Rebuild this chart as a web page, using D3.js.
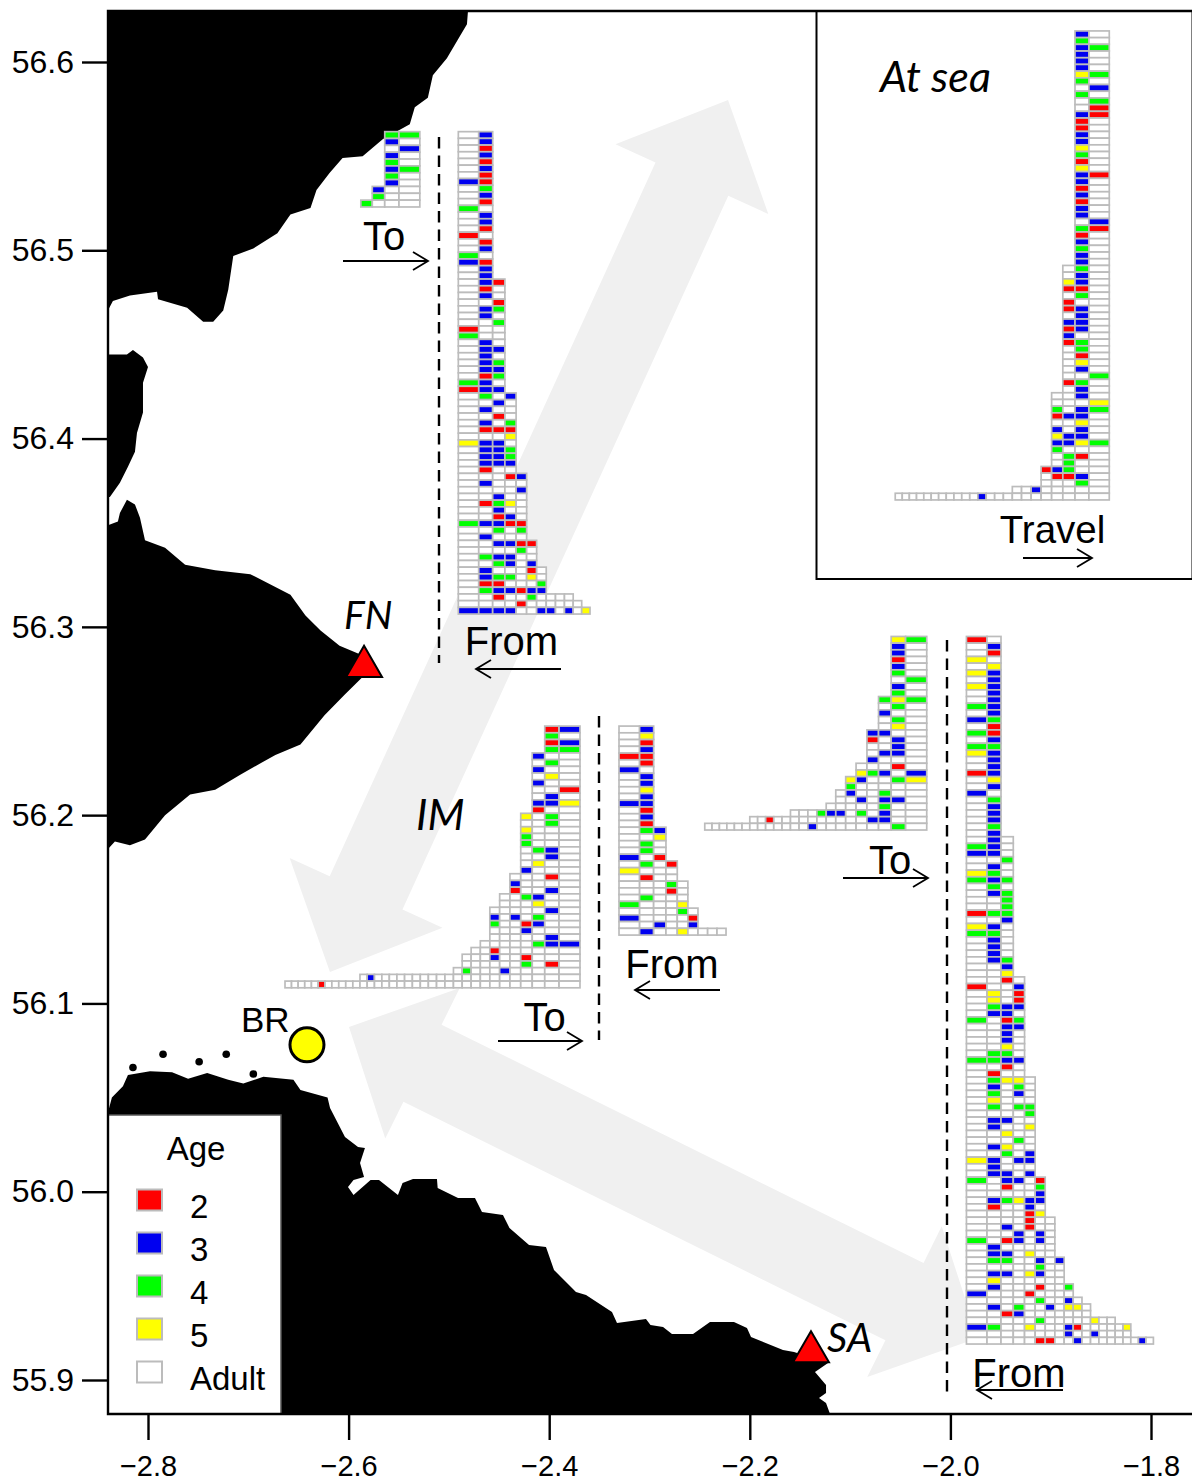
<!DOCTYPE html>
<html lang="en">
<head>
  <meta charset="UTF-8" />
  <title>Age of birds by direction of travel</title>
  <script src="https://d3js.org/d3.v7.min.js"></script>
  <style>
    body { margin: 0; background: #fff; }
    text { font-family: "Liberation Sans", Arial, sans-serif; fill: #000; }
    .site { font-family: Lato, sans-serif; font-style: italic; }
  </style>
</head>
<body>
<svg width="1192" height="1484"></svg>

<script type="text/javascript">

var lonTicks = [-2.8, -2.6, -2.4, -2.2, -2.0, -1.8];
var latTicks = [55.9, 56.0, 56.1, 56.2, 56.3, 56.4, 56.5, 56.6];

var ageKeys = ["2", "3", "4", "5", "."];
var ageLabels = ["2", "3", "4", "5", "Adult"];
var ageColors = ["#ff0000", "#0000f0", "#00ff00", "#ffff00", "#ffffff"];

// coast outlines, [lon, lat]
var coastNorth = [[-2.84,56.627],[-2.481,56.627],[-2.482,56.620],[-2.491,56.612],[-2.502,56.602],[-2.516,56.593],[-2.521,56.581],[-2.534,56.576],[-2.539,56.567],[-2.566,56.559],[-2.586,56.550],[-2.606,56.549],[-2.619,56.541],[-2.632,56.532],[-2.638,56.5225],[-2.658,56.519],[-2.671,56.509],[-2.695,56.501],[-2.715,56.497],[-2.720,56.479],[-2.725,56.468],[-2.735,56.462],[-2.745,56.462],[-2.761,56.4695],[-2.790,56.474],[-2.791,56.478],[-2.818,56.476],[-2.835,56.473],[-2.84,56.468]];
var coastTay = [[-2.84,56.4446],[-2.821,56.4446],[-2.815,56.447],[-2.805,56.443],[-2.80,56.438],[-2.805,56.4297],[-2.805,56.4138],[-2.811,56.403],[-2.813,56.393],[-2.82,56.385],[-2.828,56.3766],[-2.838,56.369],[-2.84,56.369]];
var coastFife = [[-2.84,56.354],[-2.83,56.356],[-2.828,56.3605],[-2.821,56.3675],[-2.813,56.365],[-2.808,56.358],[-2.803,56.346],[-2.783,56.342],[-2.763,56.333],[-2.733,56.330],[-2.698,56.328],[-2.658,56.317],[-2.643,56.306],[-2.628,56.298],[-2.609,56.290],[-2.587,56.285],[-2.581,56.276],[-2.604,56.264],[-2.624,56.253],[-2.648,56.2375],[-2.673,56.232],[-2.708,56.2215],[-2.733,56.2135],[-2.758,56.211],[-2.783,56.200],[-2.803,56.187],[-2.818,56.184],[-2.833,56.186],[-2.84,56.182]];
var coastSouth = [[-2.84,56.042],[-2.836,56.050],[-2.825,56.056],[-2.82,56.062],[-2.798,56.064],[-2.776,56.0635],[-2.76,56.060],[-2.741,56.063],[-2.72,56.0595],[-2.705,56.0575],[-2.685,56.061],[-2.655,56.0595],[-2.648,56.054],[-2.621,56.050],
  [-2.6185,56.0444],[-2.6036,56.029],[-2.5906,56.0237],[-2.5837,56.0232],[-2.5886,56.0152],[-2.5846,56.0078],[-2.5951,56.0062],[-2.6006,56.0025],[-2.5951,55.9982],[-2.5781,56.0062],[-2.5697,56.0062],[-2.5508,55.9982],[-2.5462,56.0046],[-2.5358,56.0067],[-2.5119,56.0067],[-2.5112,56.002],[-2.4909,55.9966],[-2.474,55.9966],[-2.467,55.9892],[-2.4461,55.9876],[-2.4396,55.9807],[-2.4201,55.9717],[-2.4032,55.9706],[-2.3952,55.9584],[-2.3733,55.9467],[-2.3633,55.9451],[-2.3374,55.9361],[-2.3324,55.9303],[-2.3035,55.9324],[-2.299,55.9292],[-2.2865,55.9281],[-2.2776,55.9244],[-2.2566,55.9244],[-2.2397,55.9308],[-2.2158,55.9308],[-2.2028,55.9276],[-2.1988,55.9228],[-2.1669,55.9159],[-2.1559,55.9149],[-2.122,55.909],[-2.135,55.9042],[-2.124,55.8973],[-2.124,55.8931],[-2.131,55.8904],[-2.124,55.8878],[-2.12,55.882],[-2.84,55.882]];
var islets = [[-2.785,56.073],[-2.722,56.073],[-2.749,56.069],[-2.815,56.066],[-2.695,56.0625]];

var colonies = [
  {name: "FN", lon: -2.5846, lat: 56.2789},
  {name: "SA", lon: -2.139, lat: 55.9149}
];
var roost = {name: "BR", lon: -2.6415, lat: 56.078};

// rows of each histogram, top to bottom, one character per bird
var fnTo = ["44","3.",".3","3.","4.","34","4.","3.","3..","4..","4..."];
var fnFrom = [".3",".3",".2",".3",".2",".3",".2","32",".4",".3",".2","4.",".3",".3",".2","2.",".2",".3","4.","32",".3",".3",
  ".32",".2.",".3.","..2",".34",".3.","..4","2..","4..",".3.",".33",".3.",".34",".33",".24","43.","233",
  ".4.3","..3.",".3..","..2.",".3.4",".222","...5","533.",".334",".334",".333",".2..",
  "...23",".3...","....3","..3..",".245.","..3..","..23.","43322","..4.4",".3...",
  "..3322","....4.",".433..","..43.3",
  ".3...2.",".344.5.",".22...4",".433233",
  "..2..4....","....2......","3333..33.3.5"];
var atSea = ["3.","4.","34","3.","3.","3.","54","4.",".3","4.",".4",".2","32","2.","2.","3.","3.","5.","4.","2.","5.","32","3.","2.","3.","2.","3.","3.",".3","42","2.","3.","4.","3.","3.",
  ".4.",".3.","53.","22.",".4.","2..","23.",".3.","33.","23.","3..","24.",".4.",".2.",".5.",".3.","..4","24.",".3.",
  "..3.","...5","4.34","233.","..5.","3.3.","533.","3354","4...",".42.",".4..",
  "234..",".223.","...4.",
  "..3.....",
  "...........3..........."];
var imTo = ["23","4.","23","44",
  "3..",".4.","3..",".5.","3..","..2",".3.","335","2..",
  "5.4.","..4.","5...","4...","4...",".43.","..3.",".5..","3...",
  "...2.","3....","2..3.",
  "..43..","...5..",
  ".....3.","3.3.4..","4..23..","...3...",".....3.",
  ".....433",
  "..2......",
  "...3..2...","......4.2.",
  ".4...3.....",
  ".3.....................",
  ".....2............................"];
var imFrom = [".3",".5",".2",".3","22",".2","3.",".3",".3",".5",".3","33",".2",".3",".2",
  ".43","..5",".4.",".4.","3.2",
  ".4.2","5...",".2..",
  "...4.","...2.",".4...","4...5",
  "....4.","3....2","..3..3",
  ".3..5...."];
var saTo = ["54","3.","3.","2.","3.","4.",".4","3.","4.",
  "454",".4.","3..",".4.",".5.",
  "33..","2.3.","..3.",".33.","3...",
  "...2.","543.3",
  "53..45","4.....",
  ".3..4..","..3.33.",
  ".....4..",
  "...433.4.3..",
  "..2..........33..",
  ".............3.......4."];
var saFrom = ["2.",".3",".2","5.",".5","53",".3","53",".3",".3","43",".3","34",".2","42",".3","44","53",".3",".3","23",".5",".3","3.",".4",".3",".3",".3",".4",".3",
  ".3.","43.","33.","..4",".3.",
  "54.","434",".4.",".34","..4","..4","244","..3","53.","44.",".3.",".3.",".3.",".34","..3","..5",
  "..2.","2..3",".5.2",".5.2",".433",".33.","4.24","..33","..3.","..3.","..5.",".44.","4433","..2.",".2..",
  ".455.",".3.4.",".4.3.",".5...",
  ".4.44","....4",".33..",".3..5","..5..","...4.",".35..","..4.3","53.33",".3...",".33.3",
  "4.33.2","..2..4",".....3",".34533",".2..3.","....25",
  "....2..","..3.2..","...3.3.","4.23.3.",".3.....",".33.5..",
  ".44..3.3",".....4..",".33.53..",".5......",
  ".3...2..4","3...2....",
  ".....4..3.",
  ".3.4..3.55.",
  "..23.......",
  ".....4.....5..",
  "34..5...32.....5",
  "........3..3....",
  ".....22..3.......3."];

var width = 1192, height = 1484;
var plot = {left: 108, right: 1192, top: 11, bottom: 1414};

var svg = d3.select("svg");

var x = d3.scaleLinear().domain([-2.8, -1.8]).range([148, 1151]);
var y = d3.scaleLinear().domain([55.9, 56.6]).range([1380, 62]);

var ageColor = d3.scaleOrdinal().domain(ageKeys).range(ageColors);

var ring = d3.line().x(function(d) { return x(d[0]); }).y(function(d) { return y(d[1]); });

svg.append("clipPath").attr("id", "plot-area")
  .append("rect")
  .attr("x", plot.left).attr("y", plot.top)
  .attr("width", plot.right - plot.left).attr("height", plot.bottom - plot.top);

var map = svg.append("g").attr("clip-path", "url(#plot-area)");

//Big grey movement arrows
function bigArrow(a, b, headLen, headHalf, shaftHalf) {
  var x0 = x(a[0]), y0 = y(a[1]), x1 = x(b[0]), y1 = y(b[1]);
  var len = Math.hypot(x1 - x0, y1 - y0);
  var ux = (x1 - x0) / len, uy = (y1 - y0) / len;
  function p(along, side) {
    return [x0 + ux * along - uy * side, y0 + uy * along + ux * side];
  }
  var pts = [p(0, 0), p(headLen, headHalf), p(headLen, shaftHalf),
    p(len - headLen, shaftHalf), p(len - headLen, headHalf), p(len, 0),
    p(len - headLen, -headHalf), p(len - headLen, -shaftHalf),
    p(headLen, -shaftHalf), p(headLen, -headHalf)];
  return d3.line()(pts) + "Z";
}

map.append("path").attr("d", bigArrow([-2.6186, 56.1167], [-2.2217, 56.5798], 87, 84, 40)).attr("fill", "#f0f0f0");
map.append("path").attr("d", bigArrow([-2.5996, 56.0875], [-1.9725, 55.9223], 82, 84, 43)).attr("fill", "#f0f0f0");

//Coast
map.selectAll("path.coast")
  .data([coastNorth, coastTay, coastFife, coastSouth])
  .enter().append("path")
  .attr("class", "coast")
  .attr("d", function(d) { return ring(d) + "Z"; })
  .attr("fill", "#000");

map.selectAll("circle.islet")
  .data(islets)
  .enter().append("circle")
  .attr("class", "islet")
  .attr("cx", function(d) { return x(d[0]); })
  .attr("cy", function(d) { return y(d[1]); })
  .attr("r", 3.8)
  .attr("fill", "#000");

//Inset box
svg.append("rect")
  .attr("x", 816.5).attr("y", plot.top)
  .attr("width", 376).attr("height", 568)
  .attr("fill", "#fff").attr("stroke", "#000").attr("stroke-width", 2);

//Histogram made of one cell per bird, cell widths shrink with a power scale
function histogram(rows, lon, latTop, latBottom, lonWidth, side) {
  var maxCols = d3.max(rows, function(r) { return r.length; });
  var cellX = d3.scalePow().exponent(0.75).domain([0, maxCols]).range([0, lonWidth * (x(1) - x(0))]);
  var rowY = d3.scaleLinear().domain([0, rows.length]).range([y(latTop), y(latBottom)]);
  var g = svg.append("g");

  rows.forEach(function(row, i) {
    var cells = row.split("");
    g.selectAll(null)
      .data(cells)
      .enter().append("rect")
      .attr("x", function(d, j) {
        if (side == "left") return x(lon) + cellX(j);
        return x(lon) - cellX(cells.length - j);
      })
      .attr("y", rowY(i))
      .attr("width", function(d, j) {
        if (side == "left") return cellX(j + 1) - cellX(j);
        return cellX(cells.length - j) - cellX(cells.length - j - 1);
      })
      .attr("height", rowY(1) - rowY(0))
      .attr("fill", function(d) { return ageColor(d); })
      .attr("stroke", "#bcbcbc")
      .attr("stroke-width", 1.7);
  });
}

histogram(fnTo, -2.529, 56.563, 56.523, 0.0588, "right");
histogram(fnFrom, -2.4906, 56.563, 56.3068, 0.1313, "left");
histogram(atSea, -1.8416, 56.6165, 56.3674, 0.2134, "right");
histogram(imTo, -2.3693, 56.2473, 56.1083, 0.2941, "right");
histogram(imFrom, -2.3304, 56.2473, 56.1363, 0.1067, "left");
histogram(saTo, -2.0236, 56.2949, 56.1921, 0.2213, "right");
histogram(saFrom, -1.984, 56.2949, 55.9191, 0.1864, "left");

//Dashed dividers
var dividers = [[439, 137, 663], [599, 716, 1040], [947, 640, 1393]];
svg.selectAll("line.divider")
  .data(dividers)
  .enter().append("line")
  .attr("class", "divider")
  .attr("x1", function(d) { return d[0]; })
  .attr("x2", function(d) { return d[0]; })
  .attr("y1", function(d) { return d[1]; })
  .attr("y2", function(d) { return d[2]; })
  .attr("stroke", "#000")
  .attr("stroke-width", 2.4)
  .attr("stroke-dasharray", "11.5,7");

//Direction labels with thin arrows
var directions = [
  {label: "To", tx: 384, ty: 250, size: 40, x1: 343, x2: 428, ay: 261},
  {label: "From", tx: 511.5, ty: 655, size: 40, x1: 561, x2: 476, ay: 669},
  {label: "Travel", tx: 1052.5, ty: 543, size: 38.5, x1: 1023, x2: 1092, ay: 558},
  {label: "To", tx: 544.5, ty: 1031, size: 40, x1: 498, x2: 582, ay: 1041},
  {label: "From", tx: 672, ty: 978, size: 40, x1: 720, x2: 635, ay: 990},
  {label: "To", tx: 890, ty: 874, size: 40, x1: 843, x2: 928, ay: 878},
  {label: "From", tx: 1019, ty: 1387, size: 40, x1: 1063, x2: 977, ay: 1390}
];

directions.forEach(function(d) {
  svg.append("text")
    .attr("x", d.tx).attr("y", d.ty)
    .attr("text-anchor", "middle")
    .attr("font-size", d.size)
    .text(d.label);
  var back = d.x2 > d.x1 ? -15 : 15;
  svg.append("path")
    .attr("d", "M" + d.x1 + "," + d.ay + "H" + d.x2 +
      "M" + (d.x2 + back) + "," + (d.ay - 9) + "L" + d.x2 + "," + d.ay + "L" + (d.x2 + back) + "," + (d.ay + 9))
    .attr("fill", "none")
    .attr("stroke", "#000")
    .attr("stroke-width", 1.8);
});

//Site names
var siteLabels = [
  {label: "At sea", x: 880, y: 92, size: 43, cls: "site"},
  {label: "FN", x: 344, y: 629, size: 39, cls: "site"},
  {label: "IM", x: 416, y: 830, size: 43, cls: "site"},
  {label: "SA", x: 827, y: 1352, size: 40, cls: "site"},
  {label: "BR", x: 241, y: 1032, size: 35, cls: ""}
];
svg.selectAll("text.label")
  .data(siteLabels)
  .enter().append("text")
  .attr("class", function(d) { return "label " + d.cls; })
  .attr("x", function(d) { return d.x; })
  .attr("y", function(d) { return d.y; })
  .attr("font-size", function(d) { return d.size; })
  .text(function(d) { return d.label; });

//Colonies and roost
svg.selectAll("path.colony")
  .data(colonies)
  .enter().append("path")
  .attr("class", "colony")
  .attr("d", d3.symbol().type(d3.symbolTriangle).size(560))
  .attr("transform", function(d) { return "translate(" + x(d.lon) + "," + y(d.lat) + ")"; })
  .attr("fill", "#ff0000")
  .attr("stroke", "#000")
  .attr("stroke-width", 2);

svg.append("circle")
  .attr("cx", x(roost.lon)).attr("cy", y(roost.lat))
  .attr("r", 17)
  .attr("fill", "#ffff00")
  .attr("stroke", "#000")
  .attr("stroke-width", 3);

//Legend
var legend = svg.append("g");
legend.append("rect")
  .attr("x", plot.left).attr("y", 1115)
  .attr("width", 173).attr("height", plot.bottom - 1115)
  .attr("fill", "#fff").attr("stroke", "#555").attr("stroke-width", 1.5);
legend.append("text")
  .attr("x", 196).attr("y", 1160)
  .attr("text-anchor", "middle")
  .attr("font-size", 33)
  .text("Age");

var legendY = d3.scalePoint().domain(ageLabels).range([1200, 1372]);
var legendRow = legend.selectAll("g.row")
  .data(ageLabels)
  .enter().append("g")
  .attr("class", "row")
  .attr("transform", function(d) { return "translate(0," + legendY(d) + ")"; });
legendRow.append("rect")
  .attr("x", 137).attr("y", -10.5)
  .attr("width", 25).attr("height", 21)
  .attr("fill", function(d, i) { return ageColors[i]; })
  .attr("stroke", "#bcbcbc")
  .attr("stroke-width", 2);
legendRow.append("text")
  .attr("x", 190).attr("y", 18)
  .attr("font-size", 33)
  .text(function(d) { return d; });

//Axes
var xAxis = svg.append("g")
  .attr("transform", "translate(0," + plot.bottom + ")")
  .call(d3.axisBottom(x).tickValues(lonTicks).tickFormat(d3.format(".1f")).tickSize(26).tickPadding(15));
var yAxis = svg.append("g")
  .attr("transform", "translate(" + plot.left + ",0)")
  .call(d3.axisLeft(y).tickValues(latTicks).tickFormat(d3.format(".1f")).tickSize(26).tickPadding(8));

[xAxis, yAxis].forEach(function(axis) {
  axis.select(".domain").remove();
  axis.selectAll("line").attr("stroke", "#000").attr("stroke-width", 2.4);
  axis.selectAll("text").attr("font-family", "Liberation Sans").attr("fill", "#000");
});
xAxis.selectAll("text").attr("font-size", 29);
yAxis.selectAll("text").attr("font-size", 32);

//Frame
svg.append("path")
  .attr("d", "M" + plot.right + "," + plot.top + "H" + plot.left + "V" + plot.bottom + "H" + plot.right)
  .attr("fill", "none")
  .attr("stroke", "#000")
  .attr("stroke-width", 2.4);

</script>
</body>
</html>
